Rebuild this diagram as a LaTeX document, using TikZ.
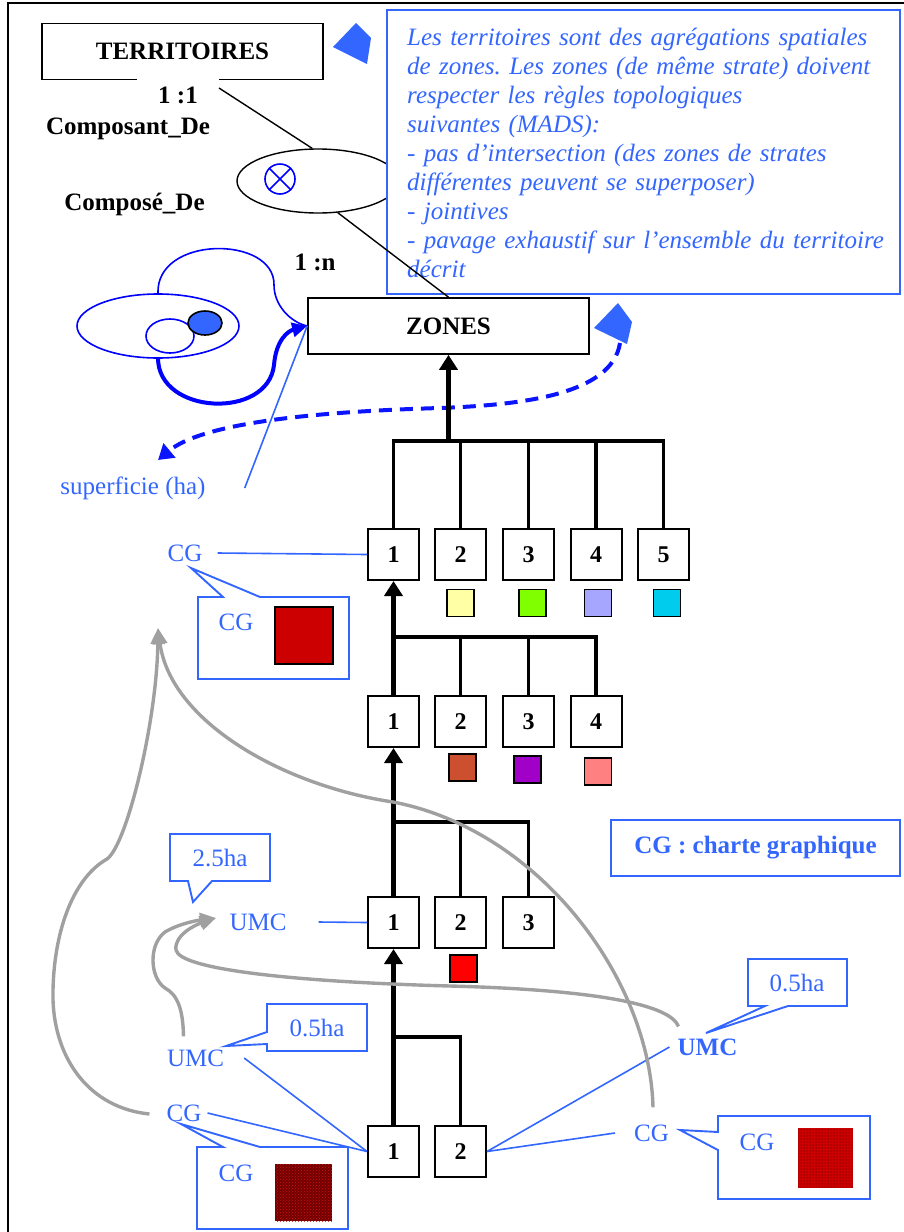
\documentclass[tikz,border=0pt]{standalone}
\usepackage{fontspec}
\setmainfont{Liberation Serif}
\frenchspacing
\usetikzlibrary{arrows.meta,shapes.geometric,patterns,calc}
\definecolor{noteblue}{RGB}{51,102,255}
\definecolor{pureblue}{RGB}{0,0,255}
\definecolor{dashblue}{RGB}{10,20,255}
\definecolor{linkgrey}{RGB}{160,160,160}
\definecolor{swyellow}{RGB}{255,255,166}
\definecolor{swlime}{RGB}{128,255,0}
\definecolor{swlav}{RGB}{166,166,255}
\definecolor{swcyan}{RGB}{0,204,238}
\definecolor{swrust}{RGB}{204,80,48}
\definecolor{swpurple}{RGB}{160,0,200}
\definecolor{swpink}{RGB}{255,128,128}
\definecolor{swred}{RGB}{255,0,0}
\definecolor{cgred}{RGB}{204,0,0}
\definecolor{cgdark}{RGB}{115,0,0}
\definecolor{cgmesh}{RGB}{205,20,20}
\begin{document}
\begin{tikzpicture}[x=1pt,y=-1pt,
  txt/.style={font=\fontsize{25}{29}\selectfont, inner sep=0pt},
  bold/.style={font=\fontsize{25}{29}\selectfont\bfseries, inner sep=0pt},
  entity/.style={draw, line width=1.7pt, fill=white, minimum width=281pt, minimum height=56pt,
    font=\fontsize{25}{29}\selectfont\bfseries},
  zbox/.style={draw, line width=2pt, fill=white, minimum size=51pt, inner sep=0pt,
    font=\fontsize{24}{28}\selectfont\bfseries},
  swatch/.style={draw, line width=1.3pt, minimum size=27pt, inner sep=0pt},
  treeline/.style={line width=3.5pt, line join=miter},
  treearrow/.style={line width=4.5pt, -{Triangle[length=15pt,width=18pt]}},
  blueline/.style={noteblue, line width=1.6pt},
  callout/.style={draw=noteblue, line width=1.9pt, line join=miter},
  bluetxt/.style={txt, text=noteblue},
  greyarrow/.style={linkgrey, line width=3.4pt, -{Triangle[length=16pt,width=14pt]}},
]
\useasboundingbox (0,0) rectangle (904,1232);
% page frame
\draw[line width=2.2pt] (8,1232) -- (8,3) -- (904,3);

% relation between territories and zones
\node[ellipse, draw, line width=1.4pt, minimum width=162pt, minimum height=64pt, inner sep=0pt] (rel) at (318,181) {};
\node[circle, draw=pureblue, line width=1.6pt, minimum size=30pt, inner sep=0pt] (otimes) at (280,179) {};
\draw[pureblue, line width=1.6pt] (otimes.45) -- (otimes.225) (otimes.135) -- (otimes.-45);

\node[entity] (terr) at (182.5,51.5) {TERRITOIRES};
\node[bold, fill=white, inner xsep=21pt, inner ysep=8pt] (card11) at (178,95) {1 :1};
\draw[line width=1.4pt] ($(card11.east)+(0,-7)$) -- (rel.100);
\node[bold] (compo) at (128,129) {Composant\_De};
\node[bold] (compd) at (134.5,204) {Composé\_De};
\node[bold] (card1n) at (315,262) {1 :n};

% explanatory note
\node[draw=noteblue, line width=1.9pt, fill=white, minimum width=513pt, minimum height=284pt, inner sep=0pt] (note) at (643.5,152) {};
\node[txt, text=noteblue, font=\fontsize{25}{29}\selectfont\itshape, anchor=west, align=left, text width=490pt] (notetext) at (407,153)
  {Les territoires sont des agrégations spatiales\\
   de zones. Les zones (de même strate) doivent\\
   respecter les règles topologiques\\
   suivantes (MADS):\\
   - pas d’intersection (des zones de strates\\
   différentes peuvent se superposer)\\
   - jointives\\
   - pavage exhaustif sur l’ensemble du territoire\\
   décrit};
\fill[noteblue] (333,47) -- (356,23) -- (371,38) -- (367,64) -- cycle;

\node[entity] (zones) at (448.5,326) {ZONES};
\draw[line width=1.4pt] (rel.-58) -- (zones.north);
\fill[noteblue] (594,328) -- (618,303) -- (632,322) -- (627,344) -- cycle;

% topology pictogram
\draw[pureblue, line width=1.6pt] (158,326) ellipse [x radius=81, y radius=32];
\draw[pureblue, line width=1.6pt] (170,336) ellipse [x radius=24, y radius=17];
\draw[line width=1.6pt, fill=noteblue] (205,323) ellipse [x radius=17, y radius=12];
\draw[pureblue, line width=1.6pt] (158,294) .. controls (155,235) and (275,235) .. (274,285)
  .. controls (274,305) and (290,322) .. (zones.west);
\draw[pureblue, line width=4pt, -{Triangle[length=15pt,width=14pt]}] (158,358) .. controls (158,415) and (268,420) .. (274,365)
  .. controls (276,340) and (288,331) .. (zones.west);

% area attribute
\node[bluetxt] (surf) at (133,488) {superficie (ha)};
\draw[blueline] ($(surf.east)+(39,0)$) -- (zones.west);
\draw[dashblue, line width=4pt, dash pattern=on 13pt off 8pt, -{Triangle[length=15pt,width=18pt]}]
  (620,343) .. controls (612,395) and (520,405) .. (440,408)
  .. controls (300,412) and (200,425) .. (158,460);

% hierarchy of zones
\node[zbox] (a1) at (393.5,554.5) {1};
\node[zbox] (a2) at (460.5,554.5) {2};
\node[zbox] (a3) at (528.5,554.5) {3};
\node[zbox] (a4) at (596,554.5) {4};
\node[zbox] (a5) at (663.5,554.5) {5};
\node[zbox] (b1) at (393.5,721.5) {1};
\node[zbox] (b2) at (460.5,721.5) {2};
\node[zbox] (b3) at (528.5,721.5) {3};
\node[zbox] (b4) at (596,721.5) {4};
\node[zbox] (c1) at (393.5,922.5) {1};
\node[zbox] (c2) at (460.5,922.5) {2};
\node[zbox] (c3) at (528.5,922.5) {3};
\node[zbox] (d1) at (393.5,1151.5) {1};
\node[zbox] (d2) at (460.5,1151.5) {2};

\coordinate (j0) at (0,441);
\coordinate (j1) at (0,637);
\coordinate (j2) at (0,822);
\coordinate (j3) at (0,1037);
\draw[treeline] (a1.north) |- (a5.north |- j0) -- (a5.north);
\foreach \n in {a2,a3,a4} \draw[treeline] (\n.north) -- (\n.north |- j0);
\draw[treearrow] (zones.south |- j0) -- (zones.south);
\draw[treeline] (b1.north |- j1) -| (b4.north);
\foreach \n in {b2,b3} \draw[treeline] (\n.north) -- (\n.north |- j1);
\draw[treearrow] (b1.north) -- (a1.south);
\draw[treeline] (c1.north |- j2) -| (c3.north);
\draw[treeline] (c2.north) -- (c2.north |- j2);
\draw[treearrow] (c1.north) -- (b1.south);
\draw[treeline] (d1.north |- j3) -| (d2.north);
\draw[treearrow] (d1.north) -- (c1.south);

% colour swatches
\node[swatch, fill=swyellow] (sa2) at (460.5,603) {};
\node[swatch, fill=swlime] (sa3) at (532.5,603) {};
\node[swatch, fill=swlav] (sa4) at (598,603) {};
\node[swatch, fill=swcyan] (sa5) at (667,603) {};
\node[swatch, fill=swrust] (sb2) at (462.5,767.5) {};
\node[swatch, fill=swpurple] (sb3) at (527.5,769.5) {};
\node[swatch, fill=swpink] (sb4) at (598,771.5) {};
\node[swatch, fill=swred] (sc2) at (463.5,968.5) {};

% graphic chart of level 1
\node[bluetxt] (cg1) at (185,553) {CG};
\draw[blueline] ($(cg1.east)+(15,0)$) -- (a1.west);
\draw[callout] (198,597) -- (223,597) -- (191,568) -- (260,597) -- (349,597) -- (349,679) -- (198,679) -- cycle;
\node[bluetxt] (cg1in) at (236,622) {CG};
\node[draw, line width=1.3pt, fill=cgred, minimum width=58pt, minimum height=57pt, inner sep=0pt] (cg1sw) at (304,635.5) {};

% minimum mapping unit of level 3
\node[bluetxt] (umc3) at (258,922) {UMC};
\draw[blueline] ($(umc3.east)+(32,0)$) -- (c1.west);
\draw[callout] (170,834) -- (270,834) -- (270,881) -- (212,881) -- (193,902) -- (188,881) -- (170,881) -- cycle;
\node[bluetxt] (ha25) at (220,858) {2.5ha};

% level 4, left
\node[bluetxt] (umc4l) at (195.5,1058) {UMC};
\node[bluetxt] (cg4l) at (184,1113) {CG};
\draw[blueline] ($(umc4l.east)+(20,0)$) -- (d1.west);
\draw[blueline] ($(cg4l.east)+(6,0)$) -- (d1.west);
\draw[callout] (267,1004) -- (367,1004) -- (367,1051) -- (267,1051) -- (267,1044) -- (226,1046) -- (267,1032) -- cycle;
\node[bluetxt] (ha05l) at (317,1028) {0.5ha};
\draw[callout] (197,1147) -- (223,1147) -- (181,1124) -- (260,1147) -- (348,1147) -- (348,1229) -- (197,1229) -- cycle;
\node[bluetxt] (cg4lin) at (236,1173) {CG};
\path[fill=cgdark, postaction={pattern=crosshatch dots, pattern color=cgmesh}] (275,1164) rectangle (332,1221);

% level 4, right
\node[bold, text=noteblue] (umc4r) at (707.5,1047) {UMC};
\node[bluetxt] (cg4r) at (651.5,1133) {CG};
\draw[blueline] ($(umc4r.west)+(-8,0)$) -- (d2.east);
\draw[blueline] ($(cg4r.west)+(-19,0)$) -- (d2.east);
\draw[callout] (748,959) -- (847,959) -- (847,1006) -- (788,1006) -- (706,1033) -- (765,1006) -- (748,1006) -- cycle;
\node[bluetxt] (ha05r) at (797,983) {0.5ha};
\draw[callout] (718,1116) -- (870,1116) -- (870,1199) -- (718,1199) -- (718,1150) -- (680,1130) -- (718,1132) -- cycle;
\node[bluetxt] (cg4rin) at (757,1142) {CG};
\path[fill=cgred, postaction={pattern=dots, pattern color=black!80!red}] (798,1128) rectangle (853,1188);

% legend
\node[draw=noteblue, line width=1.9pt, minimum width=289pt, minimum height=56pt, text=noteblue,
  font=\fontsize{25}{29}\selectfont\bfseries] (legend) at (755.5,848) {CG : charte graphique};

% inheritance of units and charts
\coordinate (umctip) at (216,918);
\coordinate (cgtip) at (158,628);
\draw[greyarrow] ($(umc4l.north)+(-12,-13)$) .. controls (183,1010) and (178,995) .. (165,988)
  .. controls (150,978) and (148,945) .. (165,932) .. controls (180,923) and (200,920) .. (umctip);
\draw[greyarrow] ($(umc4r.north)+(-29,-12)$) .. controls (670,1005) and (600,990) .. (450,986)
  .. controls (300,982) and (180,970) .. (176,950) .. controls (174,935) and (195,925) .. (umctip);
\draw[greyarrow] ($(cg4l.west)+(-17,1)$) .. controls (90,1108) and (55,1060) .. (53,1000)
  .. controls (52,940) and (70,880) .. (107,859) .. controls (127,845) and (157,720) .. (cgtip);
\draw[greyarrow] ($(cg4r.north)+(1.5,-17)$) .. controls (650,980) and (540,830) .. (393,802)
  .. controls (280,785) and (170,720) .. (cgtip);
\end{tikzpicture}
\end{document}
